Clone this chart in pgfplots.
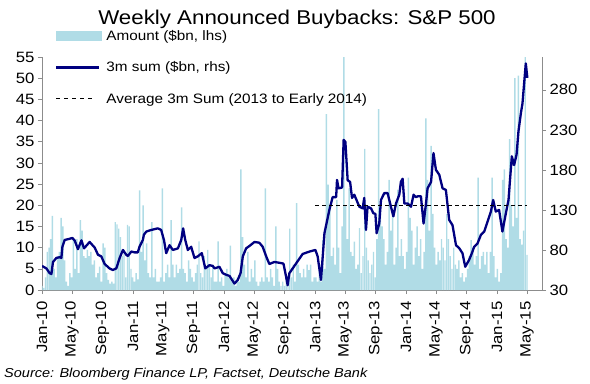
\documentclass[border=0pt]{standalone}
\usepackage{pgfplots}
\pgfplotsset{compat=1.18}
\usepackage{pgfplotstable}
\usepackage{fontspec}
\setmainfont{Liberation Sans}[FakeStretch=1.12]
\definecolor{barblue}{RGB}{176,220,230}
\definecolor{navyline}{RGB}{0,0,128}
\definecolor{axgray}{RGB}{140,140,140}

\pgfplotstableread[row sep=\\]{
w v\\
0 1\\ 1 0.5\\ 2 3\\ 3 9\\ 4 10\\ 5 12\\ 6 17.5\\ 7 5\\ 8 3\\ 9 8\\
10 9\\ 11 17\\ 12 15\\ 13 7\\ 14 2\\ 15 1\\ 16 4\\ 17 3\\ 18 12\\ 19 5\\
20 12\\ 21 4\\ 22 16.5\\ 23 14\\ 24 8\\ 25 7.5\\ 26 9.5\\ 27 8\\ 28 9\\ 29 6\\
30 7\\ 31 3\\ 32 4\\ 33 5.5\\ 34 2\\ 35 11\\ 36 10\\ 37 4\\ 38 2.4\\ 39 1.5\\
40 2\\ 41 1.5\\ 42 16\\ 43 15.5\\ 44 14.5\\ 45 12.5\\ 46 8\\ 47 9.5\\ 48 3\\ 49 15.4\\
50 15\\ 51 5\\ 52 3\\ 53 2\\ 54 4\\ 55 2.5\\ 56 23.5\\ 57 9\\ 58 20\\ 59 7\\
60 11\\ 61 4\\ 62 3\\ 63 16\\ 64 3\\ 65 5\\ 66 2\\ 67 2\\ 68 3\\ 69 24\\
70 2\\ 71 4\\ 72 6\\ 73 3\\ 74 16.5\\ 75 6\\ 76 3\\ 77 6\\ 78 4\\ 79 5\\
80 19.5\\ 81 5\\ 82 4\\ 83 2\\ 84 7\\ 85 5\\ 86 3\\ 87 2\\ 88 4\\ 89 6\\
90 11.5\\ 91 4\\ 92 3\\ 93 8\\ 94 5\\ 95 9.5\\ 96 6\\ 97 3\\ 98 6\\ 99 2\\
100 2\\ 101 11.5\\ 102 2\\ 103 3\\ 104 1\\ 105 4\\ 106 5\\ 107 3\\ 108 10.5\\ 109 2\\
110 3\\ 111 1\\ 112 3\\ 113 2\\ 114 28.5\\ 115 12.5\\ 116 6\\ 117 3\\ 118 9\\ 119 2\\
120 5\\ 121 3\\ 122 7\\ 123 2\\ 124 1\\ 125 2\\ 126 3\\ 127 2\\ 128 24\\ 129 3\\
130 2\\ 131 5\\ 132 3\\ 133 1\\ 134 15\\ 135 5\\ 136 2\\ 137 1\\ 138 2\\ 139 1\\
140 3\\ 141 2\\ 142 14.5\\ 143 3\\ 144 6\\ 145 2\\ 146 20.5\\ 147 6\\ 148 4\\ 149 3\\
150 5\\ 151 3\\ 152 6\\ 153 4.7\\ 154 6\\ 155 2\\ 156 3\\ 157 3\\ 158 2\\ 159 6\\
160 2\\ 161 11.8\\ 162 5\\ 163 41.5\\ 164 24.9\\ 165 19\\ 166 8\\ 167 10\\ 168 6\\ 169 21.3\\
170 10\\ 171 4\\ 172 15\\ 173 55\\ 174 19.8\\ 175 12\\ 176 24\\ 177 9\\ 178 8\\ 179 11.4\\
180 5\\ 181 6\\ 182 14.6\\ 183 4\\ 184 8\\ 185 33.3\\ 186 10\\ 187 7\\ 188 4\\ 189 6\\
190 9\\ 191 3\\ 192 12\\ 193 42.7\\ 194 20\\ 195 15\\ 196 12\\ 197 6\\ 198 9\\ 199 26\\
200 14\\ 201 19\\ 202 6\\ 203 10\\ 204 23.7\\ 205 8\\ 206 12\\ 207 8\\ 208 5\\ 209 9\\
210 26.5\\ 211 17\\ 212 14\\ 213 6\\ 214 10\\ 215 15\\ 216 8\\ 217 12\\ 218 5\\ 219 9\\
220 40.5\\ 221 26\\ 222 14\\ 223 34\\ 224 18\\ 225 10\\ 226 6\\ 227 9\\ 228 7\\ 229 12\\
230 10\\ 231 7\\ 232 18\\ 233 12\\ 234 8\\ 235 5\\ 236 10\\ 237 6\\ 238 5\\ 239 7\\
240 3\\ 241 4\\ 242 2\\ 243 3\\ 244 5\\ 245 8\\ 246 11.8\\ 247 10\\ 248 6\\ 249 8\\
250 26.5\\ 251 5\\ 252 8\\ 253 9\\ 254 6\\ 255 9\\ 256 4\\ 257 9\\ 258 26.5\\ 259 8\\
260 3\\ 261 5\\ 262 2\\ 263 4\\ 264 26\\ 265 28.5\\ 266 12\\ 267 10\\ 268 35.6\\ 269 20\\
270 15\\ 271 50\\ 272 17\\ 273 50.6\\ 274 12\\ 275 10.7\\ 276 14\\ 277 55\\ 278 8.3\\
}\weeklydata

\begin{document}
\begin{tikzpicture}[x=1bp,y=1bp]
\path[use as bounding box] (-42,-93) rectangle (548,290);
\pgfplotsset{
  common/.style={
    at={(0,0)}, anchor=south west, scale only axis,
    width=500bp, height=233bp,
    xmin=0, xmax=286.6,
    tick align=outside, major tick length=4bp,
    tick style={axgray, line width=0.6bp},
    axis line style={axgray, line width=0.8bp},
    tick label style={font=\fontsize{15}{17}\selectfont},
    /pgf/number format/assume math mode=true,
  }
}
\begin{axis}[common,
  ymin=0, ymax=55,
  axis x line*=bottom, axis y line*=left,
  ytick={0,5,...,55},
  xtick={0,17.14,34.71,52.14,69.29,86.86,104.29,121.57,139.14,156.57,173.71,191.29,208.71,225.86,243.43,260.86,278},
  xticklabels={Jan-10,May-10,Sep-10,Jan-11,May-11,Sep-11,Jan-12,May-12,Sep-12,Jan-13,May-13,Sep-13,Jan-14,May-14,Sep-14,Jan-15,May-15},
  xticklabel style={yshift=-4bp, rotate=90, anchor=east},
]
\addplot[ybar, bar width=1.45bp, fill=barblue, draw=none] table[x=w, y=v] {\weeklydata};
\end{axis}
\begin{axis}[common,
  ymin=30, ymax=321,
  axis x line=none, axis y line*=right,
  ytick={30,80,130,180,230,280},
  legend style={at={(0.026,1.125)}, anchor=north west, draw=none, fill=none,
    font=\fontsize{13.7}{15}\selectfont, row sep=16bp, inner sep=0pt},
  legend cell align=left,
]
\addlegendimage{legend image code/.code={\fill[barblue] (0bp,-4.5bp) rectangle (45bp,4.5bp); \path (47bp,0bp);}}
\addlegendentry{Amount (\$bn, lhs)}
\addplot[navyline, line width=2.3bp, line join=round,
  legend image code/.code={\draw[navyline, line width=2.3bp] (0bp,0bp) -- (43bp,0bp); \path (47bp,0bp);}]
coordinates {(0,60)(2.5,57)(4.4,51)(5.4,50)(6.3,65)(8.2,70)(10.1,71)(11.1,70)(11.7,84)(13.0,92.5)(15.9,94)(17.4,95)(18.7,92)(20.6,81)(22.6,92)(24.1,82)(27.3,90)(30.2,83)(32.1,74)(34.0,72)(35.9,62.5)(38.7,57)(40.6,55)(42.6,57)(44.5,70)(46.4,80)(48.3,74)(49.2,72.5)(51.2,78)(53.1,77)(54.9,77)(55.9,84)(57.8,92.5)(58.4,99)(59.8,103)(62.6,105)(66.4,107)(68.3,105)(69.9,92.5)(71.2,76)(73.1,86)(75.0,80)(77.9,82)(79.8,92.5)(80.9,107)(82.1,92.5)(83.6,80)(85.5,84)(87.4,70)(89.3,72)(91.6,76)(93.6,57)(96.0,61)(97.9,60)(98.9,57)(101.7,59)(103.6,51)(105.6,49)(107.5,47.5)(110.3,38)(112.2,42.5)(113.8,51)(115.1,72)(117.0,82)(118.9,85)(121.8,90)(124.6,89)(126.5,84)(128.5,72)(130.3,62.5)(133.2,65)(136.1,64)(138.4,63)(139.9,46.6)(140.8,36)(141.8,51)(145.6,63)(149.4,75)(153.3,78)(156.7,80)(158.0,72)(159.9,42.5)(161.9,101)(164.7,130)(166.6,146)(168.6,146)(169.1,167.5)(170.0,157)(172.0,158)(172.9,217.5)(173.9,215)(175.2,167)(176.6,165)(177.7,145)(179.0,149)(181.9,134)(183.8,132)(184.7,145)(185.7,105)(186.6,134)(188.6,132)(189.9,126)(191.1,125)(191.8,101)(193.3,113)(194.3,142.5)(196.2,151)(198.1,151)(200.0,134)(201.4,122)(202.9,138)(204.8,149)(205.7,165)(206.7,169)(207.7,138)(209.6,138)(211.5,134)(213.0,149)(214.3,146)(215.3,147)(217.2,147)(218.7,113)(220.1,138)(221.0,157)(223.0,165)(224.4,201)(225.8,180)(227.7,174)(229.6,157)(231.5,155)(233.4,117.5)(235.3,111)(237.3,86)(239.2,82)(241.0,76)(242.6,59)(244.8,67.5)(246.4,76)(247.7,84)(249.6,88)(251.6,99)(253.5,103)(255.3,115)(257.3,128)(258.6,142.5)(260.1,128)(262.0,130)(263.9,103)(265.9,126)(267.4,142.5)(268.1,163)(269.3,197)(270.6,186)(272.0,199)(273.1,228)(274.5,251)(275.4,263)(277.3,313)(278.2,295)};
\addlegendentry{3m sum (\$bn, rhs)}
\addplot[black, line width=0.9bp, dash pattern=on 4bp off 3bp,
  legend image code/.code={\draw[black, line width=0.9bp, dash pattern=on 4bp off 4bp] (0bp,0bp) -- (40bp,0bp); \path (47bp,0bp);}]
coordinates {(156.5,136)(278.2,136)};
\addlegendentry{Average 3m Sum (2013 to Early 2014)}
\end{axis}
\node[font=\fontsize{20}{24}\selectfont] at (255,271) {Weekly Announced Buybacks: S\&P 500};
\node[anchor=west, font=\itshape\fontsize{13}{15}\selectfont, inner sep=0pt] at (-38,-84) {Source: Bloomberg Finance LP, Factset, Deutsche Bank};
\end{tikzpicture}
\end{document}
